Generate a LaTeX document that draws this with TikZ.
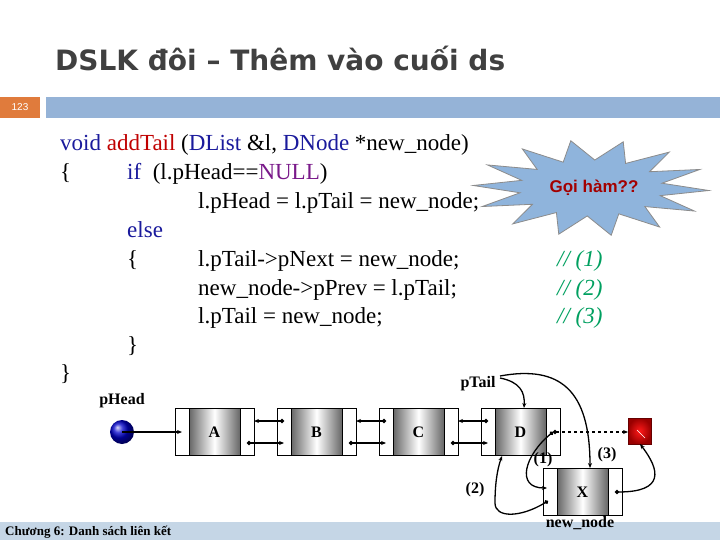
\documentclass[tikz,border=0pt]{standalone}
\usepackage{fontspec}
\setmainfont{Liberation Serif}
\newfontfamily\sans{Liberation Sans}
\newfontfamily\titlefont{DejaVu Sans}
\usetikzlibrary{arrows.meta}
\definecolor{kw}{HTML}{1A1A9C}
\definecolor{fn}{HTML}{C00000}
\definecolor{nul}{HTML}{7A1A8A}
\definecolor{cm}{HTML}{00A060}
\definecolor{barblue}{HTML}{95B3D7}
\definecolor{barlow}{HTML}{C5D6E6}
\definecolor{orng}{HTML}{E07B3C}
\definecolor{starfill}{HTML}{8FB4DC}
\begin{document}
\begin{tikzpicture}[x=1pt,y=-1pt,
  code/.style={anchor=base west,inner sep=0pt,font=\fontsize{23}{23}\selectfont},
  lbl/.style={inner sep=0pt,font=\fontsize{16}{16}\selectfont\bfseries},
  arr/.style={-{Stealth[length=5pt,width=4pt]},line width=1.3pt},
  dotstart/.style={{Circle[length=4pt]}-{Stealth[length=5pt,width=4pt]},line width=1.3pt},
  cell/.style={draw,line width=0.6pt,fill=white}]
\useasboundingbox (0,0) rectangle (720,540);
\fill[white] (0,0) rectangle (720,540);
% title
\node[anchor=base west,inner sep=0pt,font=\titlefont\fontsize{28}{28}\selectfont\bfseries,text=black!75] (title) at (55,71) {DSLK đôi – Thêm vào cuối ds};
\fill[orng] (0,97) rectangle (40,118);
\node[font=\sans\fontsize{10}{10}\selectfont,text=white] (num) at (20,107.5) {123};
\fill[barblue] (46,97) rectangle (720,118);
\fill[barlow] (0,522) rectangle (720,540);
\node[anchor=base west,inner sep=0pt,font=\fontsize{13}{13}\selectfont\bfseries] (foot) at (5,535) {Chương 6: Danh sách liên kết};
% code
\node[code] (c1) at (60,151) {\textcolor{kw}{void} \textcolor{fn}{addTail} (\textcolor{kw}{DList} \&l, \textcolor{kw}{DNode} *new\_node)};
\node[code] (c2a) at (60,180) {\{};
\node[code] (c2) at (127,180) {\textcolor{kw}{if}\ \ (l.pHead==\textcolor{nul}{NULL})};
\node[code] (c3) at (198,209) {l.pHead = l.pTail = new\_node;};
\node[code] (c4) at (127,237) {\textcolor{kw}{else}};
\node[code] (c5a) at (127,266) {\{};
\node[code] (c5) at (198,266) {l.pTail->pNext = new\_node;};
\node[code] (c6) at (198,295) {new\_node->pPrev = l.pTail;};
\node[code] (c7) at (198,323) {l.pTail = new\_node;};
\node[code] (c8) at (127,352) {\}};
\node[code] (c9) at (60,380) {\}};
\node[code,text=cm] (m1) at (557,266) {\itshape // (1)};
\node[code,text=cm] (m2) at (557,295) {\itshape // (2)};
\node[code,text=cm] (m3) at (557,323) {\itshape // (3)};
% star
\filldraw[fill=starfill,draw=black!45,line width=0.8pt]
  plot[samples at={0,...,27}] ({591+ifthenelse(mod(\x,2)==0,118,72)*cos(\x*360/28+3)},{188+ifthenelse(mod(\x,2)==0,48,28)*sin(\x*360/28+3)}) -- cycle;
\node[font=\sans\fontsize{17}{17}\selectfont\bfseries,text=fn!85!black] (star) at (594,188) {Gọi hàm??};
% list
\shade[ball color=blue!80!black] (122,432) circle (12);
\coordinate (hc) at (122,432);
\node[lbl,anchor=base] (ph) at (122,404) {pHead};
\foreach \i/\t in {0/A,1/B,2/C,3/D}{
  \pgfmathsetmacro\L{175+102*\i}
  \draw[cell] (\L,408) rectangle ++(14,47);
  \shade[left color=black!60,right color=black!60,middle color=white] (\L+14,408) rectangle ++(51,47);
  \draw[line width=0.6pt] (\L+14,408) rectangle ++(51,47);
  \draw[cell] (\L+65,408) rectangle ++(14,47);
  \node[lbl] (n\t) at (\L+39.5,432) {\t};
}
\foreach \i in {0,1,2}{
  \pgfmathsetmacro\L{175+102*\i}
  \draw[dotstart] (\L+72,443) -- (\L+109,443);
  \draw[dotstart] (\L+109,421) -- (\L+79,421);
}
\draw[arr] (hc) -- (182,432);
% X node
\draw[cell] (543,468) rectangle ++(14,47);
\shade[left color=black!60,right color=black!60,middle color=white] (557,468) rectangle ++(51,47);
\draw[line width=0.6pt] (557,468) rectangle ++(51,47);
\draw[cell] (608,468) rectangle ++(14,47);
\node[lbl] (nX) at (582.5,492) {X};
\node[lbl,anchor=base] (nn) at (580,527) {new\_node};
% red square
\shade[inner color=red!90!white,outer color=red!60!black,draw=red!40!black] (628,418) rectangle (651,444);
\draw[white,line width=0.4pt] (637,430) -- (645,438);
\coordinate (sq) at (640,444);
\coordinate (sqL) at (628,432);
\node[lbl,anchor=base] (pt) at (478,387) {pTail};
% D next dashed
\draw[dotstart,dashed] (553,432) -- (sqL);
% pTail arrows
\draw[arr] (500,378) .. controls (520,382) and (525,392) .. (524,408);
\draw[arr] (500,376) .. controls (560,365) and (590,390) .. (590,468);
% (1)
\draw[dotstart] (553,432) .. controls (525,455) and (515,488) .. (547,488);
\node[lbl] (l1) at (543,460) {(1)};
% (2)
\draw[dotstart] (548,501) .. controls (520,518) and (495,518) .. (495,503) .. controls (495,485) and (497,470) .. (502,456);
\node[lbl] (l2) at (475,490) {(2)};
% (3)
\draw[dotstart] (615,492) .. controls (665,492) and (660,470) .. (sq);
\node[lbl] (l3) at (607,455) {(3)};
\end{tikzpicture}
\end{document}
